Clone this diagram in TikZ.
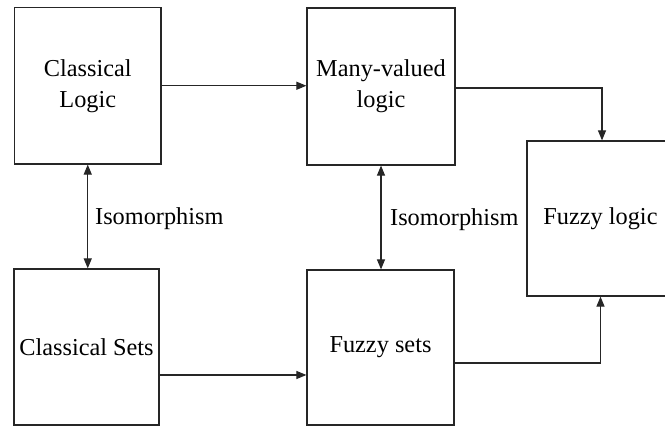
\documentclass[tikz,border=0pt]{standalone}
\usepackage{fontspec}
\setmainfont{Liberation Serif}
\usetikzlibrary{arrows.meta}
\begin{document}
\begin{tikzpicture}[x=1pt,y=-1pt,
  box/.style={draw=black!85, line width=1.2pt, rectangle, inner sep=0pt, align=center,
    font=\fontsize{24.3}{31}\selectfont},
  tip/.style={Triangle[length=10pt,width=8pt]},
  conn/.style={draw=black!85, line width=1.1pt, -{Triangle[length=10pt,width=8pt]}},
  both/.style={draw=black!85, line width=1.1pt, {Triangle[length=10pt,width=8pt]}-{Triangle[length=10pt,width=8pt]}},
  lbl/.style={inner sep=0pt, anchor=base west, font=\fontsize{24.3}{31}\selectfont}]
\useasboundingbox (0,0) rectangle (665,427);
\clip (0,0) rectangle (665,427);

% the five boxes
\node[box, minimum width=146.5pt, minimum height=156.5pt] (cl) at (87.75,85.75) {Classical\\Logic};
\node[box, minimum width=148pt, minimum height=157pt] (mv) at (381,86.5) {Many-valued\\logic};
\node[box, minimum width=147pt, minimum height=155pt] (fl) at (600.5,218.5) {Fuzzy logic};
\node[box, minimum width=145pt, minimum height=156pt] (cs) at (86.5,347) {Classical Sets};
\node[box, minimum width=147pt, minimum height=155pt] (fs) at (380.5,347.5) {Fuzzy sets};

% isomorphism links
\draw[both] (cl.south) -- (cl.south |- cs.north);
\draw[both] (mv.south) -- (mv.south |- fs.north);
\node[lbl] (iso1) at (95,225) {Isomorphism};
\node[lbl] (iso2) at (390,226) {Isomorphism};

% generalisation arrows (yshift is in page direction: negative moves down)
\draw[conn] (cl.east) -- (cl.east -| mv.west);
\draw[conn] ([yshift=-28pt]cs.east) -- ([yshift=-28pt]cs.east -| fs.west);
\draw[conn] ([yshift=-1.5pt]mv.east) -| ([xshift=1.5pt]fl.north);
\draw[conn] ([yshift=-15.5pt]fs.east) -| (fl.south);
\end{tikzpicture}
\end{document}
